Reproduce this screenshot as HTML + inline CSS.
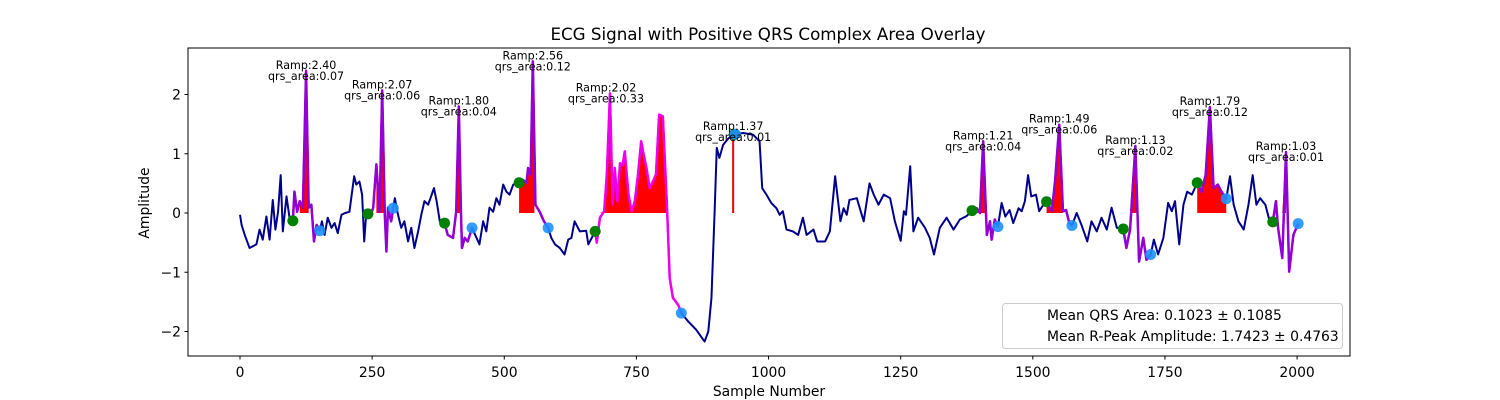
<!DOCTYPE html>
<html><head><meta charset="utf-8">
<style>
html,body{margin:0;padding:0;background:#fff;}
svg{display:block;font-family:"DejaVu Sans","Liberation Sans",sans-serif;}
</style></head>
<body>
<svg id="chart" width="1500" height="400" viewBox="0 0 1500 400" xmlns="http://www.w3.org/2000/svg">
<rect x="0" y="0" width="1500" height="400" fill="#fff"/>
<text x="768" y="40" font-size="16.7" text-anchor="middle" fill="#000">ECG Signal with Positive QRS Complex Area Overlay</text>
<text x="769" y="396" font-size="13.9" text-anchor="middle" fill="#000">Sample Number</text>
<text x="0" y="0" font-size="13.9" text-anchor="middle" fill="#000" transform="translate(149,203) rotate(-90)">Amplitude</text>
<g id="plot"></g>
<rect x="188" y="48" width="1162" height="308" fill="none" stroke="#000" stroke-width="1"/>
<g>
<rect x="1002.5" y="303.5" width="340" height="45" rx="3" fill="#fff" fill-opacity="0.8" stroke="#ccc"/>
<text x="1047" y="320" font-size="13.9" fill="#000">Mean QRS Area: 0.1023 ± 0.1085</text>
<text x="1047" y="341" font-size="13.9" fill="#000">Mean R-Peak Amplitude: 1.7423 ± 0.4763</text>
</g>
</svg>
<script>
const signalS = [0,3,9,18,31,37,43,50,56,62,67,72,77,81,88,94,100,103,108,113,119,125,130,135,140,145,151,155,160,166,173,179,185,192,199,207,216,220,226,231,235,239,246,252,258,264,269,274,277,280,286,293,299,305,311,318,324,330,337,343,349,356,367,372,378,387,393,403,409,414,418,420,425,431,439,445,453,460,466,472,479,485,491,498,504,510,517,528,535,542,545,550,554,559,567,575,583,589,596,605,614,621,627,633,643,655,659,672,675,681,689,694,700,705,709,714,719,724,728,735,741,747,753,759,764,769,775,781,787,793,800,808,813,819,829,835,848,863,879,886,892,898,902,907,914,924,936,952,971,983,988,996,1005,1015,1021,1027,1034,1046,1056,1065,1072,1085,1092,1107,1116,1126,1136,1142,1148,1153,1167,1180,1191,1199,1208,1218,1230,1239,1250,1256,1260,1268,1274,1283,1296,1305,1313,1324,1337,1350,1362,1375,1386,1394,1400,1406,1413,1419,1422,1428,1434,1441,1448,1456,1463,1473,1479,1485,1491,1497,1506,1512,1520,1526,1536,1542,1550,1557,1563,1569,1574,1583,1592,1603,1611,1621,1630,1640,1649,1659,1671,1677,1684,1694,1701,1709,1715,1723,1729,1737,1747,1756,1763,1769,1777,1785,1792,1801,1811,1819,1827,1835,1842,1850,1857,1866,1873,1880,1889,1899,1908,1916,1923,1930,1940,1948,1954,1960,1964,1972,1979,1985,1993,2002];
const signalA = [-0.03,-0.2,-0.37,-0.59,-0.53,-0.28,-0.45,-0.06,-0.45,0.22,-0.28,0.02,0.64,-0.31,0.28,-0.1,-0.13,0.36,0.02,0.2,0.09,2.40,0.09,0.14,-0.48,-0.2,-0.3,-0.14,-0.37,-0.08,-0.25,-0.17,-0.34,-0.03,0,0.02,0.62,0.48,0.53,0.31,-0.48,0.02,-0.06,0.09,0.82,0.02,2.07,-0.03,-0.65,0.09,-0.14,0.25,-0.03,-0.25,-0.14,-0.48,-0.25,-0.59,-0.31,-0.03,0.2,0.14,0.42,0.2,-0.14,-0.17,-0.37,-0.42,0.02,1.80,0.02,-0.59,-0.42,-0.48,-0.25,-0.37,-0.53,-0.14,-0.31,0.09,0.02,0.25,0.14,0.48,0.36,0.31,0.48,0.51,0.56,0.51,0.76,0.65,2.56,0.14,0.02,-0.14,-0.25,-0.42,-0.53,-0.59,-0.7,-0.45,-0.42,-0.14,-0.31,-0.3,-0.53,-0.31,-0.5,-0.08,0.03,0.65,2.02,0.14,0.76,0.2,0.84,0.81,1.04,0.31,0.03,0.2,0.65,1.21,0.98,0.76,0.42,0.53,0.65,1.66,1.63,0.08,-1.1,-1.43,-1.55,-1.69,-1.83,-1.97,-2.17,-2.0,-1.43,0.03,1.1,0.93,1.15,1.26,1.33,1.35,1.32,1.21,0.42,0.31,0.17,0.08,-0.03,0.03,-0.28,-0.31,-0.37,-0.08,-0.37,-0.28,-0.48,-0.48,-0.31,0.62,-0.14,0.08,-0.03,0.22,0.25,-0.14,0.5,0.31,0.14,0.31,0.25,-0.14,-0.47,0.03,-0.03,0.79,-0.31,-0.08,-0.25,-0.42,-0.7,-0.25,-0.08,-0.28,-0.11,-0.05,0.05,0.08,0,1.21,-0.37,-0.14,-0.45,-0.11,-0.23,0.17,-0.06,0.05,-0.17,0.08,0.03,0.2,0.64,0.28,0.31,0.03,0.14,0.19,0.03,0.53,1.49,0.03,0.05,-0.17,-0.21,0,-0.2,-0.48,-0.14,-0.31,-0.08,-0.28,0.09,-0.25,-0.27,-0.59,-0.28,1.13,-0.82,-0.42,-0.79,-0.7,-0.45,-0.7,-0.42,0.17,0.03,0.2,-0.53,0.14,0.36,0.31,0.51,0.36,0.64,1.79,0.42,0.48,0.36,0.24,0.62,0.14,-0.14,-0.28,0.14,0.64,0.14,0.25,0.14,-0.14,-0.15,0.2,-0.25,-0.76,1.03,-0.99,-0.37,-0.18];
const qOnset = [100,242,387,528,672,935,1385,1526,1671,1811,1954];
const sOffset = [151,290,439,583,835,937,1434,1574,1723,1866,2002];
const rPeakS = [125,269,414,554,700,933,1406,1550,1694,1835,1979];
const rAmp = [2.40,2.07,1.80,2.56,2.02,1.37,1.21,1.49,1.13,1.79,1.03];
const qrsArea = [0.07,0.06,0.04,0.12,0.33,0.01,0.04,0.06,0.02,0.12,0.01];
const fillStart = [113,258,409,528,681,933,1394,1526,1684,1811,1956];
const fillEnd = [130,290,418,557,808,933,1412,1557,1700,1866,1979];
const xTicks = [0,250,500,750,1000,1250,1500,1750,2000];
const yTicks = [-2,-1,0,1,2];

const NS="http://www.w3.org/2000/svg";
const plot=document.getElementById('plot');
function X(s){return 240+s*0.52855;}
function Y(a){return 213-a*59.25;}
function interp(s){
  for(let i=0;i<signalS.length-1;i++){
    if(s>=signalS[i]&&s<=signalS[i+1]){
      const t=(s-signalS[i])/((signalS[i+1]-signalS[i])||1);
      return signalA[i]+t*(signalA[i+1]-signalA[i]);
    }
  }
  return signalA[signalA.length-1];
}
function seg(a,b){
  const pts=[[a,interp(a)]];
  for(let i=0;i<signalS.length;i++) if(signalS[i]>a&&signalS[i]<b) pts.push([signalS[i],signalA[i]]);
  pts.push([b,interp(b)]);
  return pts;
}
function mk(tag,attrs){const e=document.createElementNS(NS,tag);for(const k in attrs)e.setAttribute(k,attrs[k]);return e;}

xTicks.forEach(v=>{
  const l=mk('line',{x1:X(v),x2:X(v),y1:356,y2:359.5,stroke:'#000'});
  
  
  plot.appendChild(l);
  const t=mk('text',{x:X(v),y:377,'font-size':13.9,'text-anchor':'middle'});
  
  
  t.textContent=v;plot.appendChild(t);
});
yTicks.forEach(v=>{
  const l=mk('line',{x1:184.5,x2:188,y1:Y(v),y2:Y(v),stroke:'#000'});
  
  
  plot.appendChild(l);
  const t=mk('text',{x:181,y:Y(v)+5,'font-size':13.9,'text-anchor':'end'});
  
  
  t.textContent=(v<0?'\u2212'+(-v):v);plot.appendChild(t);
});

fillStart.forEach((a,i)=>{
  const b=fillEnd[i];
  if(a===b){
    const l=mk('line',{x1:X(a),x2:X(a),y1:Y(0),y2:Y(rAmp[i]),stroke:'red','stroke-width':2});
    
    
    plot.appendChild(l);return;
  }
  const pts=seg(a,b);
  let d='M'+X(a)+','+Y(0);
  pts.forEach(p=>{d+=' L'+X(p[0])+','+Y(Math.max(0,p[1]));});
  d+=' L'+X(b)+','+Y(0)+' Z';
  const p=mk('path',{d:d,fill:'red',stroke:'none'});
  
  
  plot.appendChild(p);
});

let d='';
signalS.forEach((s,i)=>{d+=(i?' L':'M')+X(s)+','+Y(signalA[i]);});
const line=mk('path',{d:d,fill:'none',stroke:'#00008b','stroke-width':2,'stroke-linejoin':'round'});


plot.appendChild(line);

qOnset.forEach((a,i)=>{
  const b=sOffset[i];
  const pts=seg(a,b);
  let dd='';pts.forEach((p,j)=>{dd+=(j?' L':'M')+X(p[0])+','+Y(p[1]);});
  const p=mk('path',{d:dd,fill:'none',stroke:(i===4?'#ee00ee':'#9400d3'),'stroke-width':2.5,'stroke-linejoin':'round'});
  
  
  plot.appendChild(p);
});

qOnset.forEach(s=>{
  const c=mk('circle',{cx:X(s),cy:Y(interp(s)),r:5.5,fill:'#008000'});
  
  
  plot.appendChild(c);
});
sOffset.forEach(s=>{
  const c=mk('circle',{cx:X(s),cy:Y(interp(s)),r:5.5,fill:'#1e90ff','fill-opacity':0.9});
  
  
  plot.appendChild(c);
});

rPeakS.forEach((s,i)=>{
  const py=Y(rAmp[i]);
  const x=X(s)+(i===4?-4:0);
  const t1=mk('text',{x:x,y:py-2,'font-size':11.1,'text-anchor':'middle'});
  
  
  t1.textContent='Ramp:'+rAmp[i].toFixed(2);plot.appendChild(t1);
  const t2=mk('text',{x:x,y:py+9,'font-size':11.1,'text-anchor':'middle'});
  
  
  t2.textContent='qrs_area:'+qrsArea[i].toFixed(2);plot.appendChild(t2);
});
</script>
</body></html>
